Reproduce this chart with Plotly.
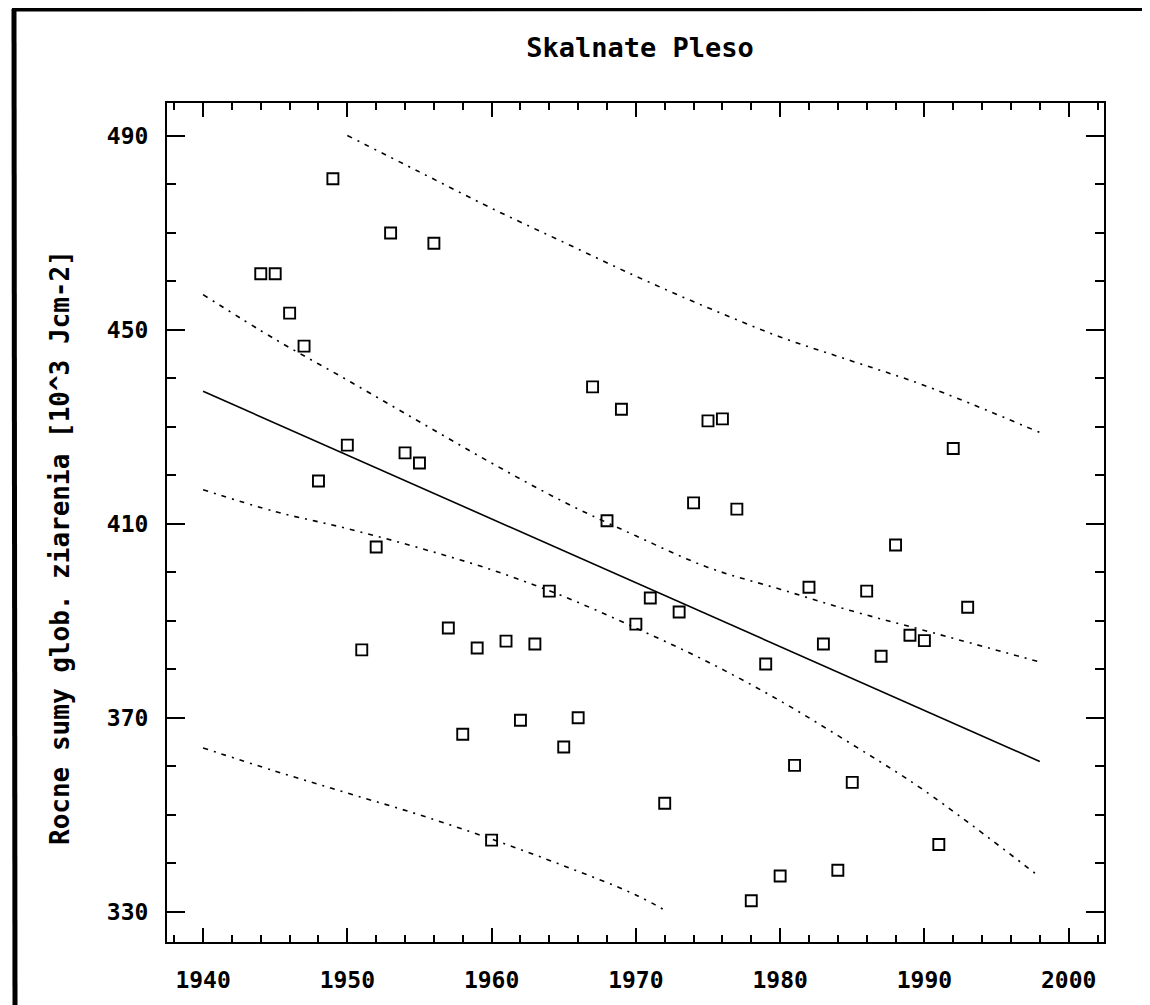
import plotly.graph_objects as go

# ---- data ----
years = list(range(1944, 1994))
radiation = [461.5, 461.5, 453.4, 446.6, 418.8, 481.1, 426.2, 384.0, 405.2, 469.9,
             424.6, 422.5, 467.8, 388.5, 366.6, 384.4, 344.8, 385.8, 369.5, 385.2,
             396.1, 364.0, 370.0, 438.2, 410.6, 433.6, 389.3, 394.7, 352.4, 391.8,
             414.3, 431.2, 431.6, 413.0, 332.3, 381.1, 337.4, 360.2, 396.9, 385.2,
             338.6, 356.7, 396.1, 382.7, 405.6, 387.0, 385.9, 343.9, 425.5, 392.8]

fit_years = [1940, 1998]
fit_vals = [437.3, 361.0]

conf_years = [1940, 1945, 1950, 1955, 1960, 1965, 1970, 1975, 1980, 1985, 1990, 1998]
conf_upper = [457.2, 448.0, 439.6, 431.0, 422.5, 414.5, 407.5, 401.0, 396.5, 392.0, 388.0, 381.5]
conf_lower = [417.0, 412.5, 409.0, 405.0, 400.5, 395.0, 388.5, 381.5, 373.5, 364.5, 355.0, 337.2]

pred_up_years = [1950, 1955, 1960, 1965, 1970, 1975, 1980, 1985, 1990, 1998]
pred_up_vals = [490.0, 482.5, 475.0, 468.0, 461.0, 454.5, 448.5, 443.5, 438.5, 428.8]

pred_lo_years = [1940, 1945, 1950, 1955, 1960, 1965, 1970, 1972.2]
pred_lo_vals = [363.8, 359.0, 354.5, 350.0, 345.0, 339.5, 333.5, 330.0]

x_ticks = [1940, 1950, 1960, 1970, 1980, 1990, 2000]
y_ticks = [330, 370, 410, 450, 490]

FONT = "DejaVu Sans Mono"
DASH = "5px,6px,2px,6px"

# page body adds an 8px offset; margins below are in figure coordinates
L, R, T, B = 159, 54, 95, 71
W, H = 1150, 1005
PW, PH = W - L - R, H - T - B


def px(x):
    return (x - 8 - L) / PW


def py(y):
    return (H - B - (y - 8)) / PH


fig = go.Figure()
for xs, ys in [(conf_years, conf_upper), (conf_years, conf_lower),
               (pred_up_years, pred_up_vals), (pred_lo_years, pred_lo_vals)]:
    fig.add_trace(go.Scatter(x=xs, y=ys, mode="lines", line=dict(color="black", width=1.6, dash=DASH),
                             line_shape="spline", hoverinfo="skip"))
fig.add_trace(go.Scatter(x=fit_years, y=fit_vals, mode="lines", line=dict(color="black", width=1.6)))
fig.add_trace(go.Scatter(x=years, y=radiation, mode="markers",
                         marker=dict(symbol="square-open", size=11, color="black",
                                     line=dict(color="black", width=1.9))))

axis_common = dict(showline=True, linecolor="black", linewidth=2, mirror="allticks",
                   ticks="inside", tickcolor="black", tickwidth=2, showgrid=False, zeroline=False)

fig.update_xaxes(range=[1937.5, 2002.45], tickmode="array", tickvals=x_ticks,
                 ticktext=[str(v) for v in x_ticks], ticklen=14,
                 tickfont=dict(family=FONT, size=23, color="black", weight="bold"),
                 ticklabelstandoff=16,
                 minor=dict(dtick=2, tick0=1940, ticklen=7, tickwidth=2, tickcolor="black", ticks="inside"),
                 **axis_common)
fig.update_yaxes(range=[323.8, 496.7], tickmode="array", tickvals=y_ticks,
                 ticktext=[str(v) for v in y_ticks], ticklen=18,
                 tickfont=dict(family=FONT, size=23, color="black", weight="bold"),
                 ticklabelstandoff=12,
                 minor=dict(dtick=10, tick0=330, ticklen=9, tickwidth=2, tickcolor="black", ticks="inside"),
                 **axis_common)

fig.update_layout(
    width=W, height=H,
    margin=dict(l=L, r=R, t=T, b=B, autoexpand=False),
    paper_bgcolor="white", plot_bgcolor="white", showlegend=False,
    title=dict(text="Skalnate Pleso", x=(640 - 8) / W, xref="container", xanchor="center",
               y=1 - (48 - 8) / H, yref="container", yanchor="middle",
               font=dict(family=FONT, size=27, color="black", weight="bold")),
    annotations=[
        dict(text="Rocne sumy glob. ziarenia [10^3 Jcm-2]", textangle=-90,
             xref="paper", yref="paper", x=px(60), y=py(548), xanchor="center", yanchor="middle",
             showarrow=False, font=dict(family=FONT, size=26, color="black", weight="bold")),
    ],
    shapes=[
        dict(type="line", xref="paper", yref="paper", x0=px(14), x1=px(15),
             y0=py(9), y1=py(1013), line=dict(color="black", width=5)),
        dict(type="line", xref="paper", yref="paper", x0=px(12), x1=px(1160),
             y0=py(9.5), y1=py(9), line=dict(color="black", width=4)),
    ],
)

fig.write_html("out.html")
